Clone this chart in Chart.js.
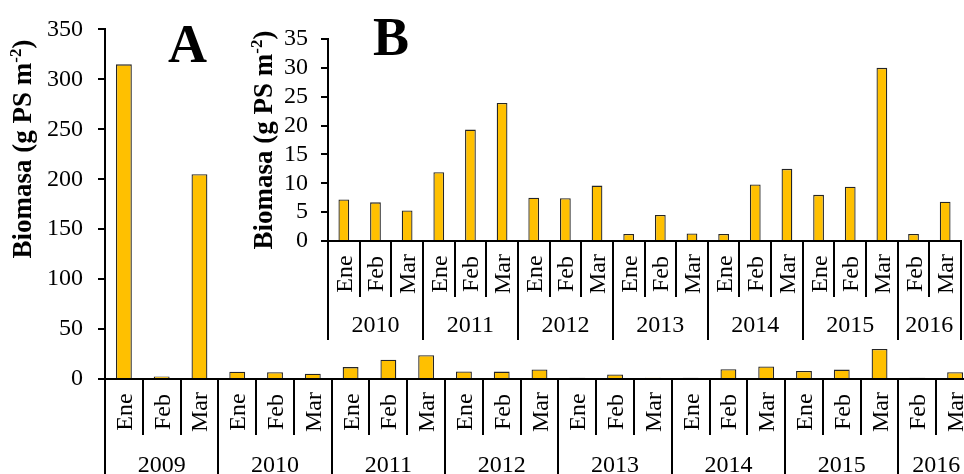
<!DOCTYPE html>
<html>
<head>
<meta charset="utf-8">
<title>Biomasa</title>
<script src="https://cdn.jsdelivr.net/npm/chart.js@4.4.0/dist/chart.umd.min.js"></script>
<style>
  html, body { margin: 0; padding: 0; overflow: hidden; background: #fff; }
  #wrap { position: relative; width: 964px; height: 474px; overflow: hidden; }
  #main { position: absolute; left: 0; top: 0; }
  #inset { position: absolute; left: 235px; top: 0; background: #fff; }
  .probe { position: absolute; left: -999px; top: 0; font-family: "Liberation Serif"; }
</style>
</head>
<body>
<span class="probe">Biomasa 0123</span><span class="probe" style="font-weight:bold">Biomasa AB</span>
<div id="wrap">
  <canvas id="main" width="980" height="474"></canvas>
  <canvas id="inset" width="729" height="345"></canvas>
</div>
<script>
// Biomasa mensual (g PS m-2), enero-marzo 2009-2016
const monthLabels = [
  'Ene', 'Feb', 'Mar',
  'Ene', 'Feb', 'Mar',
  'Ene', 'Feb', 'Mar',
  'Ene', 'Feb', 'Mar',
  'Ene', 'Feb', 'Mar',
  'Ene', 'Feb', 'Mar',
  'Ene', 'Feb', 'Mar',
  'Feb', 'Mar',
];
const yearLabels = [
  '2009', '2009', '2009',
  '2010', '2010', '2010',
  '2011', '2011', '2011',
  '2012', '2012', '2012',
  '2013', '2013', '2013',
  '2014', '2014', '2014',
  '2015', '2015', '2015',
  '2016', '2016',
];
const biomass = [
  315, 2.5, 205,
  7.2, 6.7, 5.3,
  11.9, 19.3, 23.9,
  7.5, 7.4, 9.6,
  1.2, 4.5, 1.3,
  1.2, 9.8, 12.5,
  8.0, 9.4, 30.0,
  1.2, 6.8,
];
const mainTicks = [0, 50, 100, 150, 200, 250, 300, 350];
const insetTicks = [0, 5, 10, 15, 20, 25, 30, 35];

const FONT = '"Liberation Serif"';
const BAR_FILL = '#FFC000';
const BAR_EDGE = '#262626';

Chart.defaults.font.family = FONT;
Chart.defaults.color = '#000';

// draws the two-level month/year axis, the y title and the panel letter
function groupedAxis(opts) {
  return {
    id: 'groupedAxis',
    afterDraw(chart) {
      const ctx = chart.ctx;
      const x = chart.scales.x;
      const base = chart.chartArea.bottom;
      const labels = chart.data.labels;
      const years = opts.years;
      const n = labels.length;

      ctx.save();
      ctx.strokeStyle = '#000';
      ctx.lineWidth = 2;
      for (let i = 0; i <= n; i++) {
        const px = Math.round(x.getPixelForValue(i - 0.5));
        const yearEdge = i === 0 || i === n || years[i] !== years[i - 1];
        ctx.beginPath();
        ctx.moveTo(px, base);
        ctx.lineTo(px, yearEdge ? opts.yearBottom : opts.monthBottom);
        ctx.stroke();
      }

      ctx.fillStyle = '#000';
      ctx.font = '24px ' + FONT;
      ctx.textAlign = 'center';
      ctx.textBaseline = 'alphabetic';
      labels.forEach((lab, i) => {
        const px = x.getPixelForValue(i);
        ctx.save();
        ctx.translate(px + 8, opts.monthMid);
        ctx.rotate(-Math.PI / 2);
        ctx.fillText(lab, 0, 0);
        ctx.restore();
      });

      let start = 0;
      for (let i = 1; i <= n; i++) {
        if (i === n || years[i] !== years[start]) {
          const mid = (x.getPixelForValue(start - 0.5) + x.getPixelForValue(i - 0.5)) / 2;
          ctx.fillText(years[start], mid, opts.yearBase);
          start = i;
        }
      }

      // y axis title with superscript
      const big = 'bold 27px ' + FONT;
      const small = 'bold 17px ' + FONT;
      const s1 = 'Biomasa (g PS m', s2 = '-2', s3 = ')';
      ctx.font = big;
      const w1 = ctx.measureText(s1).width;
      const w3 = ctx.measureText(s3).width;
      ctx.font = small;
      const w2 = ctx.measureText(s2).width;
      const left = -(w1 + w2 + w3) / 2;
      ctx.save();
      ctx.translate(opts.titleX, opts.titleY);
      ctx.rotate(-Math.PI / 2);
      ctx.textAlign = 'left';
      ctx.font = big;
      ctx.fillText(s1, left, 0);
      ctx.font = small;
      ctx.fillText(s2, left + w1, -10);
      ctx.font = big;
      ctx.fillText(s3, left + w1 + w2, 0);
      ctx.restore();

      ctx.font = 'bold 54px ' + FONT;
      ctx.textAlign = 'left';
      ctx.fillText(opts.letter, opts.letterX, opts.letterY);
      ctx.restore();
    }
  };
}

function makeChart(id, labels, values, ticks, o) {
  const step = ticks[1] - ticks[0];
  return new Chart(document.getElementById(id), {
    type: 'bar',
    data: {
      labels: labels,
      datasets: [{
        data: values,
        backgroundColor: BAR_FILL,
        borderColor: BAR_EDGE,
        borderWidth: 1.3,
        barPercentage: o.barPct,
        categoryPercentage: 1,
      }],
    },
    options: {
      responsive: false,
      animation: false,
      layout: { padding: { top: o.top, right: o.right, left: 0, bottom: 0 } },
      plugins: { legend: { display: false }, tooltip: { enabled: false } },
      scales: {
        x: {
          offset: true,
          grid: { display: false },
          border: { display: true, color: '#000', width: 2 },
          ticks: { display: false },
          afterFit: (s) => { s.height = o.xHeight; },
        },
        y: {
          min: ticks[0],
          max: ticks[ticks.length - 1],
          grid: { display: true, drawOnChartArea: false, drawTicks: true, tickLength: 7, color: '#000', lineWidth: 2 },
          border: { display: true, color: '#000', width: 2 },
          ticks: { stepSize: step, autoSkip: false, padding: o.tickPad, font: { size: 24 }, color: '#000' },
          afterFit: (s) => { s.width = o.yWidth; },
        },
      },
    },
    plugins: [groupedAxis(o.axis)],
  });
}

function drawAll() {
  makeChart('main', monthLabels, biomass, mainTicks, {
    top: 24, right: 6, xHeight: 95, yWidth: 105, tickPad: 15, barPct: 0.42,
    axis: {
      years: yearLabels, monthBottom: 435, yearBottom: 474, monthMid: 412, yearBase: 472,
      titleX: 31, titleY: 149, letter: 'A', letterX: 168, letterY: 62,
    },
  });

  makeChart('inset', monthLabels.slice(3), biomass.slice(3), insetTicks, {
    top: 39, right: 3, xHeight: 104, yWidth: 93, tickPad: 13, barPct: 0.34,
    axis: {
      years: yearLabels.slice(3), monthBottom: 297, yearBottom: 340, monthMid: 274, yearBase: 332,
      titleX: 37, titleY: 140, letter: 'B', letterX: 138, letterY: 55,
    },
  });
}

Promise.all([
  document.fonts.load('24px "Liberation Serif"'),
  document.fonts.load('bold 27px "Liberation Serif"'),
]).then(drawAll, drawAll);
</script>
</body>
</html>
